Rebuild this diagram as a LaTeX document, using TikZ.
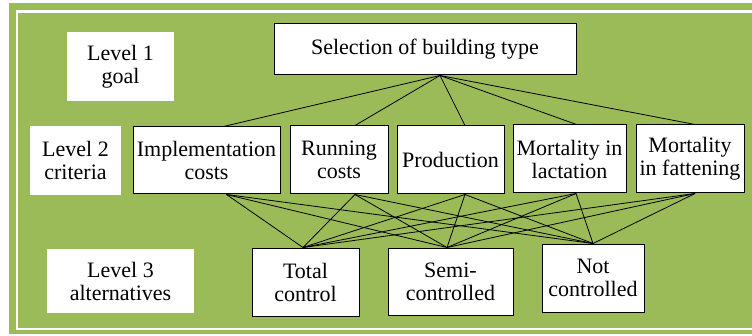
\documentclass[tikz,border=0pt]{standalone}
\usepackage{fontspec}
\setmainfont{Liberation Serif}
\definecolor{levelgreen}{RGB}{155,187,89}

\begin{document}
\begin{tikzpicture}[
  x=1pt, y=1pt,
  every node/.style={align=center, inner sep=0pt, font=\fontsize{22}{23}\selectfont},
  levelbox/.style={fill=white},
  box/.style={draw, fill=white, line width=1pt},
  edge/.style={draw, line width=0.8pt}
]

\useasboundingbox (0,0) rectangle (752,335);

% Background and frame
\fill[levelgreen] (9,1) rectangle (752,332);
\draw[white, line width=2.5pt] (17,6) rectangle (770,323.5);

% Level labels
\node[levelbox, minimum width=107pt, minimum height=69pt] (lvl1) at (120.5,268.5) {Level 1\\goal};
\node[levelbox, minimum width=91pt, minimum height=69pt] (lvl2) at (75.5,174.5) {Level 2\\criteria};
\node[levelbox, minimum width=147pt, minimum height=64pt] (lvl3) at (120.5,54) {Level 3\\alternatives};

% Goal
\node[box, minimum width=302pt, minimum height=51pt] (goal) at (425,285.5) {Selection of building type};

% Criteria
\node[box, minimum width=147pt, minimum height=67pt] (impl) at (206.5,174.5) {Implementation\\costs};
\node[box, minimum width=98pt, minimum height=68pt] (run) at (339,175) {Running\\costs};
\node[box, minimum width=107pt, minimum height=68pt] (prod) at (450.5,175) {Production};
\node[box, minimum width=113pt, minimum height=68pt] (lact) at (569.5,176) {Mortality in\\lactation};
\node[box, minimum width=108pt, minimum height=68pt] (fatt) at (690,176) {Mortality\\in fattening};

% Alternatives
\node[box, minimum width=107pt, minimum height=68pt] (total) at (305.5,53) {Total\\control};
\node[box, minimum width=125pt, minimum height=67pt] (semi) at (450.5,53.5) {Semi-\\controlled};
\node[box, minimum width=102pt, minimum height=68pt] (notc) at (593,57) {Not\\controlled};

% Goal to criteria
\draw[edge] ([xshift=15pt]goal.south) -- ([xshift=17pt]impl.north);
\draw[edge] ([xshift=15pt]goal.south) -- ([xshift=16pt]run.north);
\draw[edge] ([xshift=15pt]goal.south) -- ([xshift=14.5pt]prod.north);
\draw[edge] ([xshift=15pt]goal.south) -- ([xshift=7pt]lact.north);
\draw[edge] ([xshift=15pt]goal.south) -- ([xshift=5pt]fatt.north);

% Criteria to alternatives
\draw[edge] ([xshift=20pt]impl.south) -- ([xshift=-2.5pt]total.north);
\draw[edge] ([xshift=20pt]impl.south) -- ([xshift=-3.5pt]semi.north);
\draw[edge] ([xshift=20pt]impl.south) -- (notc.north);
\draw[edge] ([xshift=16pt]run.south) -- ([xshift=-2.5pt]total.north);
\draw[edge] ([xshift=16pt]run.south) -- ([xshift=-3.5pt]semi.north);
\draw[edge] ([xshift=16pt]run.south) -- (notc.north);
\draw[edge] ([xshift=14.5pt]prod.south) -- ([xshift=-2.5pt]total.north);
\draw[edge] ([xshift=14.5pt]prod.south) -- ([xshift=-3.5pt]semi.north);
\draw[edge] ([xshift=14.5pt]prod.south) -- (notc.north);
\draw[edge] ([xshift=6.5pt]lact.south) -- ([xshift=-2.5pt]total.north);
\draw[edge] ([xshift=6.5pt]lact.south) -- ([xshift=-3.5pt]semi.north);
\draw[edge] ([xshift=6.5pt]lact.south) -- (notc.north);
\draw[edge] ([xshift=5pt]fatt.south) -- ([xshift=-2.5pt]total.north);
\draw[edge] ([xshift=5pt]fatt.south) -- ([xshift=-3.5pt]semi.north);
\draw[edge] ([xshift=5pt]fatt.south) -- (notc.north);

\end{tikzpicture}
\end{document}
